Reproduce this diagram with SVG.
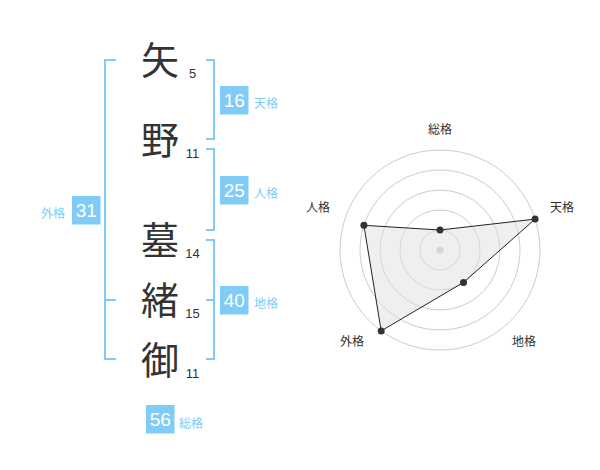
<svg xmlns="http://www.w3.org/2000/svg" width="600" height="470" viewBox="0 0 600 470">
<style>
.ch{font-family:"Noto Sans CJK JP","Noto Sans CJK SC",sans-serif;font-size:38px;fill:#333;text-anchor:middle}
.sc{font-family:"Liberation Sans",Arial,sans-serif;font-size:13px;fill:#333;text-anchor:middle}
.br{fill:none;stroke:#80ccf7;stroke-width:2}
.bx{fill:#80ccf7}
.bn{font-family:"Liberation Sans",Arial,sans-serif;font-size:19px;fill:#fff;text-anchor:middle}
.bl{font-family:"Noto Sans CJK JP",sans-serif;font-size:12px;fill:#80ccf7}
.ring{fill:none;stroke:#ccc;stroke-width:1}
.rl{font-family:"Noto Sans CJK JP",sans-serif;font-size:12px;fill:#333;text-anchor:middle}
</style>
<rect width="600" height="470" fill="#fff"/>
<g id="chars">
<g id="c1"><text class="ch" x="160" y="74">矢</text><text class="sc" x="192.5" y="77.5">5</text></g>
<g id="c2"><text class="ch" x="160" y="154">野</text><text class="sc" x="192.5" y="158">11</text></g>
<g id="c3"><text class="ch" x="160" y="254">墓</text><text class="sc" x="192.5" y="258">14</text></g>
<g id="c4"><text class="ch" x="160" y="314">緒</text><text class="sc" x="192.5" y="318">15</text></g>
<g id="c5"><text class="ch" x="160" y="374">御</text><text class="sc" x="192.5" y="377.5">11</text></g>
</g>
<g id="connectors">
<path class="br" d="M116,60 H105 V359 H116 M105,300 H116"/>
<path class="br" d="M206,60 H214 V139 H206"/>
<path class="br" d="M206,149 H214 V230 H206"/>
<path class="br" d="M206,240 H214 V359 H206 M206,300 H214"/>
</g>
<g id="gaikaku"><rect class="bx" x="72" y="196" width="28.5" height="28.5"/><text class="bn" x="86.3" y="217">31</text><text class="bl" x="41" y="218">外格</text></g>
<g id="tenkaku"><rect class="bx" x="220" y="86" width="28.5" height="28.5"/><text class="bn" x="234.3" y="107">16</text><text class="bl" x="254" y="108">天格</text></g>
<g id="jinkaku"><rect class="bx" x="220" y="176" width="28.5" height="28.5"/><text class="bn" x="234.3" y="197">25</text><text class="bl" x="254" y="198">人格</text></g>
<g id="chikaku"><rect class="bx" x="220" y="286" width="28.5" height="28.5"/><text class="bn" x="234.3" y="307">40</text><text class="bl" x="254" y="308">地格</text></g>
<g id="soukaku"><rect class="bx" x="146" y="405" width="28.5" height="28.5"/><text class="bn" x="160.3" y="426">56</text><text class="bl" x="179" y="428">総格</text></g>
<g id="radar">
<circle class="ring" cx="440" cy="250" r="20"/>
<circle class="ring" cx="440" cy="250" r="40"/>
<circle class="ring" cx="440" cy="250" r="60"/>
<circle class="ring" cx="440" cy="250" r="80"/>
<circle class="ring" cx="440" cy="250" r="100"/>
<circle cx="440" cy="250" r="3.5" fill="#ccc"/>
<polygon points="440,230 535.1,219.1 463.5,282.4 381.2,330.9 363.9,225.3" fill="#e0e0e0" fill-opacity="0.5" stroke="#222" stroke-width="1"/>
<g fill="#333">
<circle cx="440" cy="230" r="3.5"/>
<circle cx="535.1" cy="219.1" r="3.5"/>
<circle cx="463.5" cy="282.4" r="3.5"/>
<circle cx="381.2" cy="330.9" r="3.5"/>
<circle cx="363.9" cy="225.3" r="3.5"/>
</g>
<text class="rl" x="440" y="134">総格</text>
<text class="rl" x="562" y="212">天格</text>
<text class="rl" x="318" y="212">人格</text>
<text class="rl" x="352" y="346">外格</text>
<text class="rl" x="524" y="346">地格</text>
</g>
</svg>
